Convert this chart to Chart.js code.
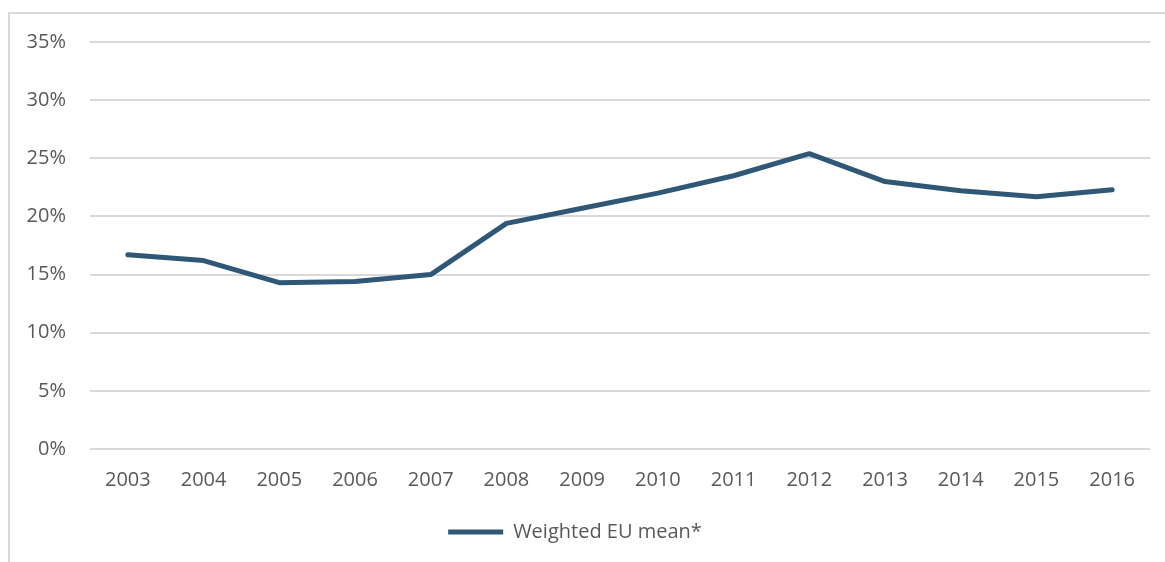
<!DOCTYPE html>
<html>
<head>
<meta charset="utf-8">
<script src="https://cdn.jsdelivr.net/npm/chart.js@4/dist/chart.umd.min.js"></script>
<style>
  body { margin: 0; background: #fff; overflow: hidden; }
  #frame { position: absolute; left: 8px; top: 12px; width: 1200px; height: 600px; border: 2px solid #d9d9d9; }
  #wrap { position: absolute; left: 0; top: 0; width: 1165px; height: 562px; }
</style>
</head>
<body>
<div id="frame"></div>
<div id="wrap"><canvas id="LineChart"></canvas></div>
<script>
const years = ['2003', '2004', '2005', '2006', '2007', '2008', '2009', '2010', '2011', '2012', '2013', '2014', '2015', '2016'];
const euMean = [16.7, 16.2, 14.3, 14.4, 15.0, 19.4, 20.7, 22.0, 23.5, 25.4, 23.0, 22.2, 21.7, 22.3];
const seriesName = 'Weighted EU mean*';

const textColor = '#595959';
const fontFamily = '"Open Sans", Lato, sans-serif';

const ctx = document.getElementById('LineChart').getContext('2d');
const chart = new Chart(ctx, {
  type: 'line',
  data: {
    labels: years,
    datasets: [{
      label: seriesName,
      data: euMean,
      borderColor: '#2f5877',
      backgroundColor: '#2f5877',
      borderWidth: 5,
      borderCapStyle: 'round',
      borderJoinStyle: 'round',
      pointRadius: 0,
      tension: 0,
      fill: false
    }]
  },
  options: {
    responsive: true,
    maintainAspectRatio: false,
    animation: false,
    layout: { padding: { top: 42, right: 15, left: 0, bottom: 10 } },
    scales: {
      x: {
        offset: true,
        grid: { display: false },
        border: { display: false },
        ticks: { color: textColor, font: { family: fontFamily, size: 20 }, padding: 11, maxRotation: 0 },
        afterFit: (scale) => { scale.height = 64; }
      },
      y: {
        min: 0,
        max: 35,
        grid: { color: '#d9d9d9', lineWidth: 2, drawTicks: false },
        border: { display: false },
        ticks: {
          stepSize: 5,
          color: textColor,
          font: { family: fontFamily, size: 20 },
          padding: 24,
          callback: (v) => v + '%'
        },
        afterFit: (scale) => { scale.width = 90; }
      }
    },
    plugins: {
      legend: {
        position: 'bottom',
        labels: {
          usePointStyle: true,
          pointStyle: 'line',
          pointStyleWidth: 55,
          color: textColor,
          font: { family: fontFamily, size: 20 },
          padding: 9
        }
      },
      tooltip: { enabled: false }
    }
  }
});
</script>
</body>
</html>
